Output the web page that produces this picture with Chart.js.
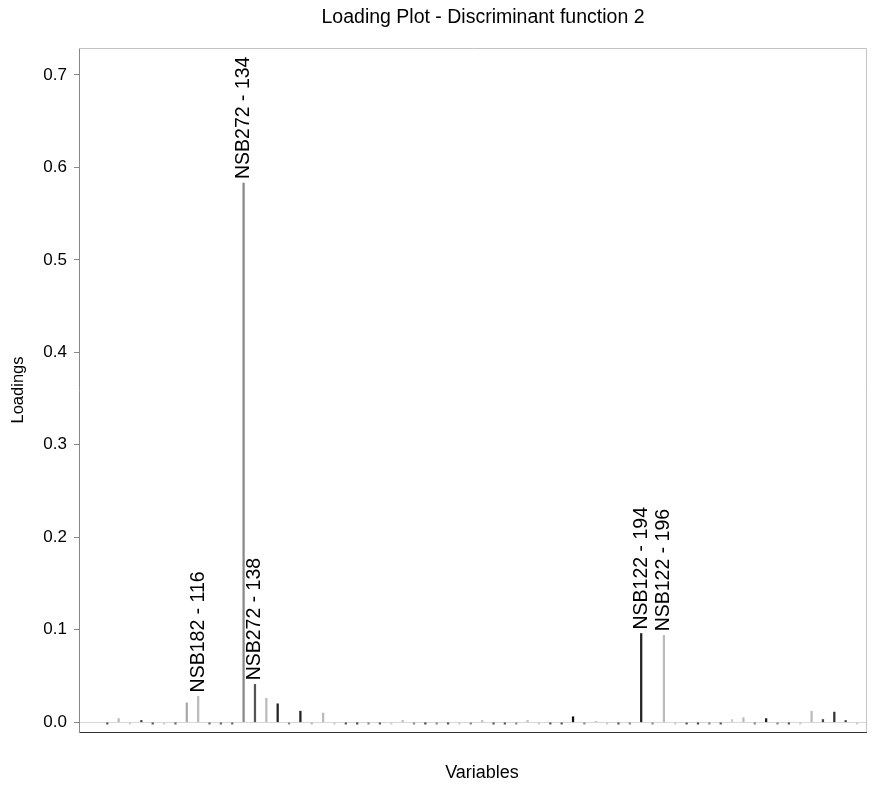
<!DOCTYPE html>
<html><head><meta charset="utf-8">
<script src="https://cdn.jsdelivr.net/npm/chart.js@4.4.0/dist/chart.umd.min.js"></script>
<style>html,body{margin:0;padding:0;background:#fff}</style>
</head><body>
<canvas id="c" width="881" height="785"></canvas>
<script>
// ---- data ----
const loadings = [
 -0.002, 0.004, -0.002, 0.002, -0.002, -0.002, -0.002, 0.021, 0.028, -0.002,
 -0.002, -0.002, 0.583, 0.041, 0.026, 0.020, -0.002, 0.012, -0.002, 0.010,
 -0.002, -0.002, -0.002, -0.002, -0.002, -0.002, 0.002, -0.002, -0.002, -0.002,
 -0.002, -0.002, -0.002, 0.002, -0.002, -0.002, -0.002, 0.002, -0.002, -0.002,
 -0.002, 0.006, -0.002, 0.001, -0.002, -0.002, -0.002, 0.096, -0.002, 0.094,
 -0.002, -0.002, -0.002, -0.002, -0.002, 0.003, 0.005, -0.002, 0.004, -0.002,
 -0.002, -0.002, 0.012, 0.003, 0.011, 0.002, -0.002
];
const barColors = [
 '#555','#bbb','#ccc','#444','#555','#ccc','#666','#aaa','#bbb','#666',
 '#666','#666','#888','#555','#bbb','#222','#888','#222','#bbb','#bbb',
 '#ccc','#555','#444','#888','#555','#ccc','#bbb','#888','#444','#888',
 '#555','#ccc','#888','#bbb','#555','#555','#888','#bbb','#ccc','#555',
 '#555','#111','#888','#bbb','#ccc','#555','#888','#222','#888','#bbb',
 '#ccc','#555','#444','#888','#555','#ccc','#bbb','#888','#222','#888',
 '#555','#ccc','#bbb','#444','#333','#444','#ccc'
];
const yTickLabels = ['0.0','0.1','0.2','0.3','0.4','0.5','0.6','0.7'];
const peakIndex = [8, 12, 13, 47, 49];
const peakNames = ['NSB182 - 116','NSB272 - 134','NSB272 - 138','NSB122 - 194','NSB122 - 196'];
const chartTitle = 'Loading Plot - Discriminant function 2';
const xTitle = 'Variables';
const yTitle = 'Loadings';

const FONT = '"Liberation Sans", Arial, sans-serif';

const framePlugin = {
  id: 'frame',
  beforeDatasetsDraw(chart) {
    const {ctx, chartArea: a} = chart;
    ctx.save();
    ctx.strokeStyle = '#c4c4c4';
    ctx.lineWidth = 1;
    ctx.beginPath();
    ctx.moveTo(a.left, a.top + 0.5); ctx.lineTo(a.right + 0.5, a.top + 0.5); ctx.lineTo(a.right + 0.5, a.bottom);
    ctx.stroke();
    ctx.restore();
  },
  afterDraw(chart) {
    const {ctx} = chart;
    ctx.save();
    ctx.fillStyle = '#000';
    ctx.font = '19.5px ' + FONT;
    ctx.textAlign = 'center';
    ctx.textBaseline = 'middle';
    ctx.fillText(chartTitle, 483, 18);
    ctx.font = '18px ' + FONT;
    ctx.fillText(xTitle, 482, 773);
    // peak labels
    const xs = chart.scales.x, ys = chart.scales.y;
    ctx.font = '19.5px ' + FONT;
    ctx.textAlign = 'left';
    ctx.textBaseline = 'middle';
    peakIndex.forEach((idx, k) => {
      const px = xs.getPixelForValue(idx);
      const py = ys.getPixelForValue(loadings[idx]);
      ctx.save();
      ctx.translate(px, py - 4);
      ctx.rotate(-Math.PI / 2);
      ctx.fillText(peakNames[k], 0, 0);
      ctx.restore();
    });
    ctx.restore();
  }
};

new Chart(document.getElementById('c'), {
  type: 'bar',
  data: {
    datasets: [{
      data: loadings.map((v, i) => ({x: i, y: v})),
      backgroundColor: barColors,
      borderWidth: 0,
      barThickness: 1.6
    }]
  },
  options: {
    responsive: false,
    animation: false,
    devicePixelRatio: 1,
    layout: {padding: {top: 48, right: 15, left: 0, bottom: 0}},
    plugins: {legend: {display: false}, tooltip: {enabled: false}, title: {display: false}},
    scales: {
      x: {
        type: 'linear',
        min: -2.49, max: 66.79,
        offset: false,
        grid: {display: false},
        border: {display: true, color: '#333', width: 1},
        ticks: {display: false},
        title: {display: false},
        afterFit(s) { s.height = 53; }
      },
      y: {
        min: -0.0105, max: 0.729,
        afterBuildTicks(s) { s.ticks = yTickLabels.map(l => ({value: parseFloat(l)})); },
        ticks: {
          color: '#000', font: {family: FONT, size: 17}, padding: 7,
          callback: (v) => yTickLabels.find(l => Math.abs(parseFloat(l) - v) < 1e-9) || ''
        },
        grid: {
          drawOnChartArea: true,
          color: (c) => (c.tick && c.tick.value === 0) ? '#d8d8d8' : 'rgba(0,0,0,0)',
          tickColor: '#888', tickLength: 5
        },
        border: {display: true, color: '#888', width: 1},
        title: {display: true, text: yTitle, color: '#000', font: {family: FONT, size: 16.5}, padding: {top: 9, bottom: 0}},
        afterFit(s) { s.width = 79; }
      }
    }
  },
  plugins: [framePlugin]
});
</script>
</body></html>
